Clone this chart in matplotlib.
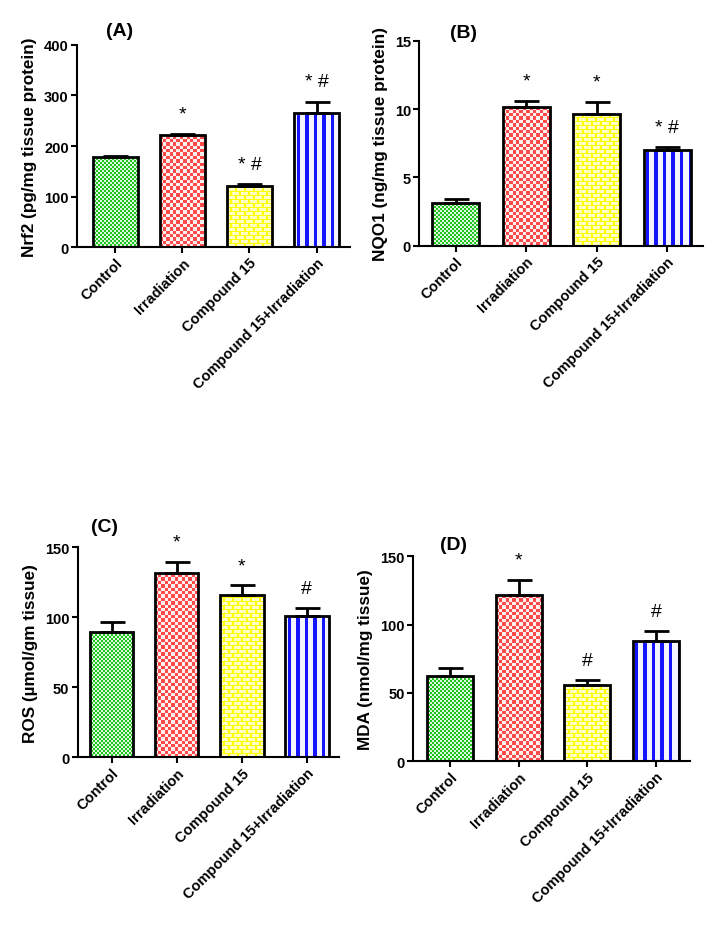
import matplotlib.pyplot as plt
import numpy as np

plt.rcParams["font.family"] = ["Liberation Sans", "DejaVu Sans"]
plt.rcParams["font.weight"] = "bold"
plt.rcParams["axes.labelweight"] = "bold"

groups = ["Control", "Irradiation", "Compound 15", "Compound 15+Irradiation"]

nrf2 = [178, 222, 120, 265]
nrf2_err = [3, 2, 4, 23]
nrf2_marks = ["", "*", "* #", "* #"]

nqo1 = [3.12, 10.13, 9.64, 7.03]
nqo1_err = [0.3, 0.45, 0.9, 0.17]
nqo1_marks = ["", "*", "*", "* #"]

ros = [89.3, 131.6, 116.1, 101.1]
ros_err = [7.6, 8.1, 6.8, 5.3]
ros_marks = ["", "*", "*", "#"]

mda = [62.2, 121.9, 55.8, 87.8]
mda_err = [5.8, 11.0, 3.7, 7.6]
mda_marks = ["", "*", "#", "#"]


def rgb(h):
    h = h.lstrip("#")
    return np.array([int(h[i:i + 2], 16) / 255 for i in (0, 2, 4)])


def tex_green(h, w):
    yy, xx = np.mgrid[0:h, 0:w]
    on = ((yy // 2 + xx // 2) % 2) == 0
    img = np.ones((h, w, 3))
    img[on] = rgb("#1fc41f")
    img[~on] = rgb("#dcf7dc")
    return img


def tex_red(h, w):
    yy, xx = np.mgrid[0:h, 0:w]
    on = (((yy / 3.4).astype(int) + (xx / 3.4).astype(int)) % 2) == 0
    img = np.ones((h, w, 3))
    img[on] = rgb("#ff4a4a")
    img[~on] = rgb("#fff0f0")
    return img


def tex_yellow(h, w):
    yy, xx = np.mgrid[0:h, 0:w]
    row = yy // 4
    line = (yy % 4 == 0) | (((xx + (row % 2) * 5) % 9) <= 1)
    img = np.ones((h, w, 3))
    img[line] = rgb("#ffff00")
    img[~line] = rgb("#ffffc4")
    return img


def tex_blue(h, w):
    yy, xx = np.mgrid[0:h, 0:w]
    on = ((xx + 3) % 8.6) >= 5.2
    img = np.ones((h, w, 3))
    img[on] = rgb("#1414ff")
    img[~on] = rgb("#f4f4ff")
    return img


textures = [tex_green, tex_red, tex_yellow, tex_blue]


def panel(ax, vals, errs, marks, ymax, ystep, ylabel, tag, tag_xy, xlim):
    fig = ax.figure
    x = np.arange(len(groups))
    ax.set_xlim(*xlim)
    ax.set_ylim(0, ymax)
    ax.set_facecolor("none")
    ax.set_zorder(1)
    bars = ax.bar(x, vals, width=0.67, color="none", edgecolor="black",
                  linewidth=2, zorder=3)
    ax.errorbar(x, vals, yerr=[[0] * len(vals), errs], fmt="none",
                ecolor="black", elinewidth=2, capsize=9, capthick=2, zorder=2)
    # pattern fills, drawn pixel for pixel under the axes and clipped to each bar
    for b, tex in zip(bars, textures):
        x0, x1 = b.get_x(), b.get_x() + b.get_width()
        p0 = np.floor(ax.transData.transform((x0, 0))).astype(int)
        p1 = np.ceil(ax.transData.transform((x1, b.get_height()))).astype(int)
        w = max(p1[0] - p0[0], 1) + 1
        h = max(p1[1] - p0[1], 1) + 1
        im = fig.figimage(tex(h, w), xo=p0[0], yo=p0[1], origin="lower",
                          zorder=0.5)
        im.set_clip_path(b)
    for xi, v, e, m in zip(x, vals, errs, marks):
        if m:
            ax.annotate(m, (xi, v + e), xytext=(0, 11), textcoords="offset points",
                        ha="center", va="baseline", fontsize=14,
                        fontweight="normal")
    ax.set_yticks(np.arange(0, ymax + ystep / 2, ystep))
    ax.set_xticks(x)
    ax.set_xticklabels(groups, rotation=45, ha="right", rotation_mode="anchor",
                       fontsize=10.5, fontweight="bold")
    for lab in ax.get_yticklabels():
        lab.set_fontsize(10.5)
        lab.set_fontweight("bold")
    ax.set_ylabel(ylabel, fontsize=12.3, fontweight="bold", labelpad=5)
    ax.spines["top"].set_visible(False)
    ax.spines["right"].set_visible(False)
    ax.spines["left"].set_linewidth(1.5)
    ax.spines["bottom"].set_linewidth(1.5)
    ax.tick_params(direction="out", length=4, width=1.5, pad=2)
    ax.text(tag_xy[0], tag_xy[1], tag, transform=ax.transAxes, ha="center",
            va="center", fontsize=14, fontweight="bold")


fig = plt.figure(figsize=(7.13, 9.29), dpi=100)
ax_a = fig.add_axes([0.108, 0.733, 0.383, 0.2175])
ax_b = fig.add_axes([0.588, 0.7344, 0.398, 0.2207])
ax_c = fig.add_axes([0.109, 0.1837, 0.367, 0.226])
ax_d = fig.add_axes([0.579, 0.1794, 0.389, 0.2207])

panel(ax_a, nrf2, nrf2_err, nrf2_marks, 400, 100,
      "Nrf2 (pg/mg tissue protein)", "(A)", (0.157, 1.07), (-0.57, 3.5))
panel(ax_b, nqo1, nqo1_err, nqo1_marks, 15, 5,
      "NQO1 (ng/mg tissue protein)", "(B)", (0.155, 1.04), (-0.52, 3.51))
panel(ax_c, ros, ros_err, ros_marks, 150, 50,
      "ROS (\u00b5mol/gm tissue)", "(C)", (0.103, 1.10), (-0.52, 3.5))
panel(ax_d, mda, mda_err, mda_marks, 150, 50,
      "MDA (nmol/mg tissue)", "(D)", (0.148, 1.06), (-0.54, 3.5))

fig.savefig("out.png", dpi=100)
